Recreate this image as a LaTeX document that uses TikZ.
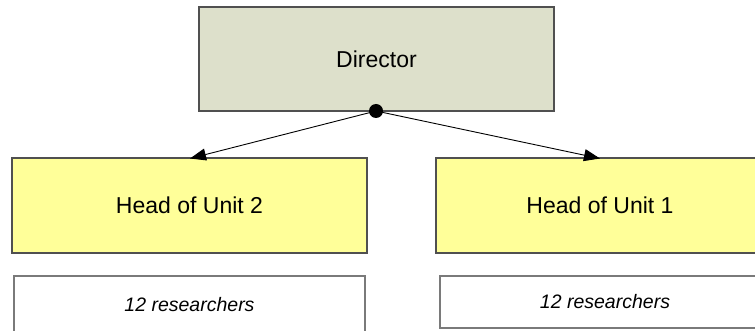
\documentclass[tikz,border=0pt]{standalone}
\usepackage{fontspec}
\setmainfont{Liberation Sans}
\usetikzlibrary{arrows.meta}
\definecolor{dirfill}{HTML}{DDE0CB}
\definecolor{headfill}{HTML}{FFFF99}
\definecolor{boxline}{HTML}{505050}
\definecolor{resline}{HTML}{7A7A7A}
\tikzset{
  dirbox/.style={draw=boxline, line width=1.2pt, fill=dirfill, inner sep=0pt,
    minimum width=355pt, minimum height=104pt, font=\fontsize{23}{27}\selectfont},
  headbox/.style={draw=boxline, line width=1.2pt, fill=headfill, inner sep=0pt,
    minimum height=95pt, font=\fontsize{23}{27}\selectfont},
  resbox/.style={draw=resline, line width=1.3pt, fill=white, inner sep=0pt,
    font=\fontsize{19.5}{23}\selectfont\itshape},
  arr/.style={draw=black, line width=0.9pt, -{Triangle[length=16pt,width=12pt]}}
}
\begin{document}
\begin{tikzpicture}[x=1pt,y=-1pt]
\useasboundingbox (0,0) rectangle (755,331);
\clip (0,0) rectangle (755,331);
\fill[white] (0,0) rectangle (755,331);
\node[dirbox] (dir) at (376.5,59) {Director};
\node[headbox, minimum width=355pt] (h2) at (189.5,205.5) {Head of Unit 2};
\node[headbox, minimum width=328pt] (h1) at (600,205.5) {Head of Unit 1};
\node[resbox, minimum width=351pt, minimum height=58pt] (r2) at (189.5,305) {12 researchers};
\node[resbox, minimum width=330pt, minimum height=52pt] (r1) at (605,302) {12 researchers};
\node[circle, fill=black, inner sep=0pt, minimum size=14pt] (dot) at (376,111) {};
\coordinate (t2) at (190,158.5);
\coordinate (t1) at (600,158.5);
\draw[arr] (dot.center) -- (t2);
\draw[arr] (dot.center) -- (t1);
\end{tikzpicture}
\end{document}
